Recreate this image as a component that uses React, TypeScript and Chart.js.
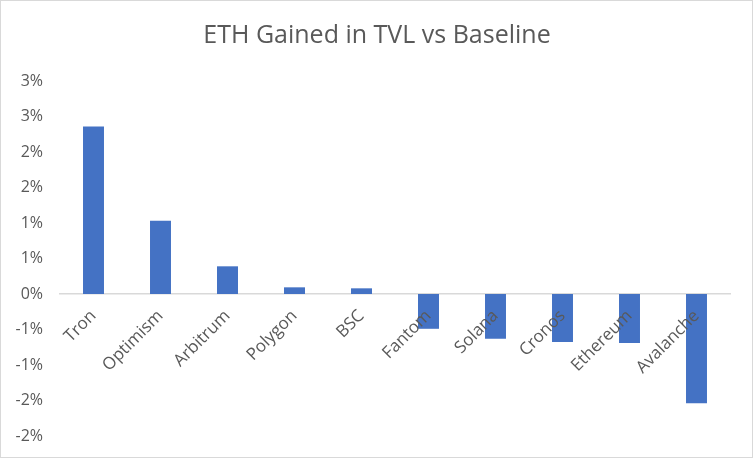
import React, { useEffect, useRef } from "react";
import { Chart, registerables } from "chart.js";

Chart.register(...registerables);

const categories = ["Tron", "Optimism", "Arbitrum", "Polygon", "BSC", "Fantom", "Solana", "Cronos", "Ethereum", "Avalanche"];
const gainPct = [2.36, 1.03, 0.39, 0.094, 0.08, -0.49, -0.63, -0.675, -0.69, -1.54];
const yMin = -2;
const yMax = 3;
const yStep = 0.5;
const titleText = "ETH Gained in TVL vs Baseline";

const FONT = "'Open Sans', sans-serif";
const TEXT = "#595959";

export default function App() {
  const ref = useRef<HTMLCanvasElement | null>(null);
  useEffect(() => {
    document.body.style.margin = "0";
    if (!ref.current) return;
    const chart = new Chart(ref.current, {
      type: "bar",
      data: {
        labels: categories,
        datasets: [
          {
            data: gainPct,
            backgroundColor: "#4472C4",
            categoryPercentage: 1,
            barPercentage: 0.313,
            yAxisID: "y",
          },
        ],
      },
      options: {
        animation: false,
        responsive: true,
        maintainAspectRatio: false,
        layout: { padding: { left: 12, right: 12, top: 0, bottom: 23 } },
        plugins: {
          legend: { display: false },
          tooltip: { enabled: false },
          title: {
            display: true,
            text: titleText,
            color: TEXT,
            font: { family: FONT, size: 25, weight: "normal" },
            padding: { top: 21, bottom: 30 },
          },
        },
        scales: {
          x: {
            position: { y: 0 } as any,
            grid: { display: false, drawTicks: false },
            border: { display: true, color: "#d9d9d9", width: 1.5 },
            ticks: {
              z: 1,
              color: TEXT,
              font: { family: FONT, size: 17 },
              minRotation: 45,
              maxRotation: 45,
              padding: 12,
            } as any,
          },
          y: {
            min: yMin,
            max: yMax,
            grid: { display: false, drawTicks: false },
            border: { display: false },
            afterFit: (s: any) => {
              s.width = 48;
              s.paddingBottom = 4;
              s.paddingTop = 4;
            },
            ticks: {
              stepSize: yStep,
              color: TEXT,
              font: { family: FONT, size: 16 },
              padding: 17,
              callback: (v: any) => {
                const n = Number(v);
                const r = Math.sign(n) * Math.round(Math.abs(n));
                return (r === 0 ? 0 : r) + "%";
              },
            },
          },
          ySpacer: {
            type: "linear",
            position: "right",
            min: yMin,
            max: yMax,
            grid: { display: false, drawTicks: false },
            border: { display: false },
            ticks: { display: false },
            afterFit: (s: any) => {
              s.width = 12;
              s.paddingBottom = 0;
              s.paddingTop = 0;
            },
          },
        },
      },
    });
    return () => chart.destroy();
  }, []);
  return (
    <div style={{ position: "absolute", left: 0, top: 0, width: 754, height: 459 }}>
      <canvas ref={ref} />
      <div
        style={{
          position: "absolute",
          left: 0,
          top: 0,
          width: 753,
          height: 458,
          border: "1px solid #d9d9d9",
          boxSizing: "border-box",
          pointerEvents: "none",
        }}
      />
    </div>
  );
}
